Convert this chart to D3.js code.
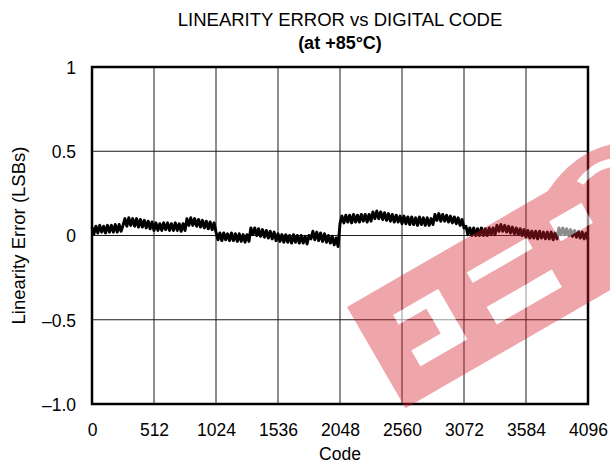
<!DOCTYPE html>
<html>
<head>
<meta charset="utf-8">
<script src="https://cdn.jsdelivr.net/npm/d3@7"></script>
<style>
  body { margin: 0; background: #fff; }
  text { font-family: "Liberation Sans", Arial, sans-serif; fill: #000; }
</style>
</head>
<body>
<svg id="chart" width="610" height="465"></svg>
<script>
// axis ticks
const xTicks = [0, 512, 1024, 1536, 2048, 2560, 3072, 3584, 4096];
const yTicks = [1, 0.5, 0, -0.5, -1];
const yTickLabels = ["1", "0.5", "0", "\u20130.5", "\u20131.0"];

// linearity error (LSB), one value every 16 codes
const codeStep = 16;
const errQ1 = [ // codes 0 .. 1008
  0.05, 0.01, 0.055, 0.015, 0.06, 0.02, 0.055, 0.015, 0.06, 0.02, 0.06, 0.02, 0.065, 0.02, 0.065, 0.025,
  0.06, 0.1, 0.055, 0.105, 0.06, 0.1, 0.055, 0.1, 0.05, 0.095, 0.05, 0.09, 0.045, 0.085, 0.04, 0.08,
  0.03, 0.075, 0.03, 0.07, 0.03, 0.075, 0.035, 0.075, 0.03, 0.07, 0.03, 0.075, 0.03, 0.07, 0.025, 0.07,
  0.03, 0.1, 0.06, 0.105, 0.06, 0.1, 0.055, 0.095, 0.05, 0.09, 0.045, 0.085, 0.04, 0.08, 0.035, 0.075
];
const errQ2 = [ // codes 1024 .. 2032
  0.02, -0.025, 0.015, -0.03, 0.015, -0.025, 0.01, -0.03, 0.015, -0.03, 0.01, -0.035, 0.01, -0.035, 0.005, -0.04,
  0.005, -0.035, 0.045, 0.005, 0.045, 0.0, 0.04, -0.005, 0.035, -0.01, 0.03, -0.015, 0.025, -0.02, 0.02, -0.03,
  0.01, -0.035, 0.005, -0.04, 0.005, -0.04, 0.0, -0.045, 0.005, -0.04, 0.0, -0.045, 0.0, -0.045, -0.005, -0.05,
  0.0, -0.02, 0.025, -0.025, 0.02, -0.03, 0.015, -0.035, 0.01, -0.04, 0.0, -0.045, -0.005, -0.055, -0.015, -0.065
];
const errQ3 = [ // codes 2048 .. 3056
  0.07, 0.115, 0.075, 0.12, 0.08, 0.12, 0.075, 0.125, 0.08, 0.12, 0.08, 0.125, 0.085, 0.125, 0.08, 0.125,
  0.085, 0.14, 0.1, 0.145, 0.1, 0.14, 0.095, 0.135, 0.09, 0.13, 0.085, 0.125, 0.08, 0.12, 0.08, 0.115,
  0.07, 0.115, 0.07, 0.11, 0.065, 0.11, 0.065, 0.105, 0.06, 0.11, 0.065, 0.105, 0.06, 0.105, 0.06, 0.1,
  0.065, 0.125, 0.09, 0.13, 0.085, 0.125, 0.085, 0.12, 0.08, 0.115, 0.075, 0.11, 0.07, 0.105, 0.06, 0.095
];
const errQ4 = [ // codes 3072 .. 4096
  0.045, 0.055, 0.005, 0.045, 0.0, 0.045, 0.0, 0.04, 0.0, 0.045, 0.0, 0.04, 0.0, 0.045, 0.005, 0.045,
  0.005, 0.06, 0.025, 0.065, 0.025, 0.06, 0.02, 0.055, 0.015, 0.05, 0.01, 0.045, 0.005, 0.04, 0.0, 0.035,
  -0.01, 0.03, -0.015, 0.025, -0.015, 0.025, -0.02, 0.025, -0.015, 0.02, -0.02, 0.02, -0.02, 0.02, -0.025, 0.015,
  -0.02, 0.045, 0.005, 0.045, 0.005, 0.04, 0.0, 0.035, -0.005, 0.03, -0.01, 0.025, -0.015, 0.02, -0.02, 0.015,
  -0.025
];

const errValues = [...errQ1, ...errQ2, ...errQ3, ...errQ4];
const series = errValues.map((v, i) => ({ code: i * codeStep, err: v }));

const svg = d3.select("#chart");
const plot = { left: 92, right: 588, top: 67, bottom: 404 };

const x = d3.scaleLinear().domain([0, 4096]).range([plot.left, plot.right]);
const y = d3.scaleLinear().domain([-1, 1]).range([plot.bottom, plot.top]);

// grid
const grid = svg.append("g").attr("stroke", "#1a1a1a").attr("stroke-width", 1);
grid.selectAll("line.v")
  .data(xTicks.slice(1, -1))
  .enter().append("line")
  .attr("x1", d => x(d)).attr("x2", d => x(d))
  .attr("y1", plot.top).attr("y2", plot.bottom);
grid.selectAll("line.h")
  .data(yTicks.slice(1, -1))
  .enter().append("line")
  .attr("x1", plot.left).attr("x2", plot.right)
  .attr("y1", d => y(d)).attr("y2", d => y(d));

// trace
const line = d3.line()
  .x(d => x(d.code))
  .y(d => y(d.err));

svg.append("path")
  .datum(series)
  .attr("d", line)
  .attr("fill", "none")
  .attr("stroke", "#000")
  .attr("stroke-width", 3)
  .attr("stroke-linejoin", "round");

// frame
svg.append("rect")
  .attr("x", plot.left).attr("y", plot.top)
  .attr("width", plot.right - plot.left)
  .attr("height", plot.bottom - plot.top)
  .attr("fill", "none")
  .attr("stroke", "#000")
  .attr("stroke-width", 2.5);

// axes (labels only)
const xAxis = d3.axisBottom(x).tickValues(xTicks).tickFormat(d3.format("d")).tickSize(0).tickPadding(0);
const gx = svg.append("g")
  .attr("transform", `translate(0,${plot.bottom})`)
  .call(xAxis);
gx.select(".domain").remove();
gx.selectAll("text")
  .attr("y", 32).attr("dy", null)
  .style("font-size", "17.5px")
  .attr("font-family", null);

const yAxis = d3.axisLeft(y)
  .tickValues(yTicks)
  .tickFormat((d, i) => yTickLabels[i])
  .tickSize(0).tickPadding(16);
const gy = svg.append("g")
  .attr("transform", `translate(${plot.left},0)`)
  .call(yAxis);
gy.select(".domain").remove();
gy.selectAll("text")
  .attr("dy", "0.36em")
  .style("font-size", "17.5px")
  .attr("font-family", null);

// titles
const cx = (plot.left + plot.right) / 2;
svg.append("text")
  .attr("x", cx).attr("y", 26)
  .attr("text-anchor", "middle")
  .style("font-size", "18.5px")
  .text("LINEARITY ERROR vs DIGITAL CODE");
svg.append("text")
  .attr("x", cx).attr("y", 49)
  .attr("text-anchor", "middle")
  .style("font-size", "18px")
  .style("font-weight", "bold")
  .text("(at +85\u00B0C)");
svg.append("text")
  .attr("x", cx).attr("y", 460)
  .attr("text-anchor", "middle")
  .style("font-size", "17.5px")
  .text("Code");
svg.append("text")
  .attr("transform", `translate(25,${(plot.top + plot.bottom) / 2}) rotate(-90)`)
  .attr("text-anchor", "middle")
  .style("font-size", "18.5px")
  .text("Linearity Error (LSBs)");

// red watermark stamp laid over the chart
const wm = svg.append("g").attr("transform", "translate(347,307) rotate(-30)");
const holeA = "M36,30 L88,30 L88,88 L34,88 L34,70 L68,70 L68,41 L36,41 Z";
const holeB1 = "M121,30 L190,30 L190,42 L121,42 Z";
const holeB2 = "M121,70 L196,70 L196,90 L121,90 Z";
const holeC = "M218,27 L255,27 L255,50 L218,50 Z";
const holeC2 = "M262,6 Q290,-6 312,8 L306,14 Q288,4 266,12 Z";
const band = "M0,0 L232,0 Q285,-26 330,0 L440,0 L440,117 L0,117 Z";
wm.append("path")
  .attr("d", [band, holeA, holeB1, holeB2, holeC, holeC2].join(" "))
  .attr("fill-rule", "evenodd")
  .attr("fill", "rgb(212,32,44)")
  .attr("opacity", 0.4);
wm.append("path")
  .attr("d", [holeA, holeB1, holeB2, holeC, holeC2].join(" "))
  .attr("fill", "#fff")
  .attr("opacity", 0.55);
</script>
</body>
</html>
